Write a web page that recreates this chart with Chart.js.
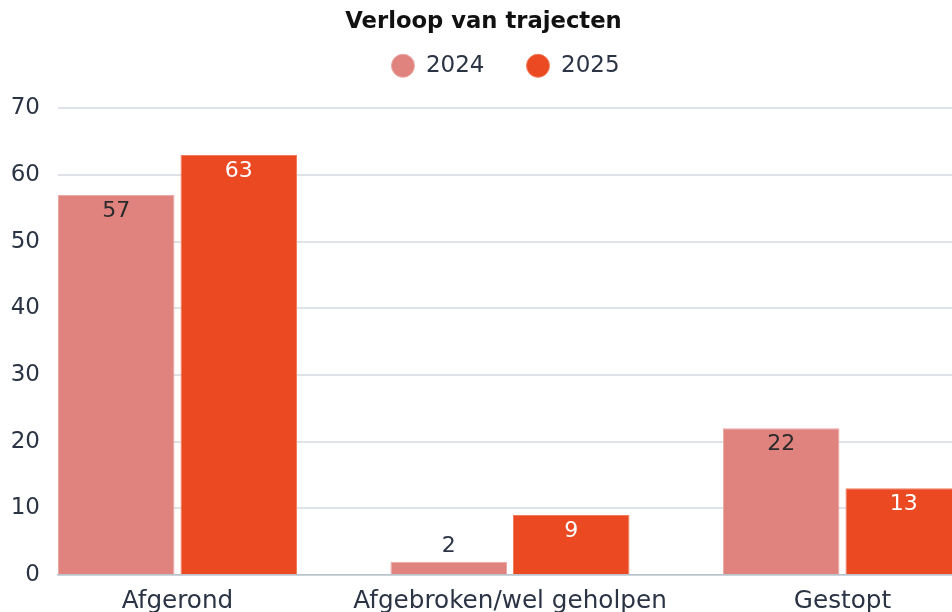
<!DOCTYPE html>
<html>
<head>
<meta charset="utf-8">
<script src="https://cdn.jsdelivr.net/npm/chart.js@4/dist/chart.umd.min.js"></script>
<style>
  html, body { margin: 0; padding: 0; background: #fff; overflow: hidden; }
  #wrap { width: 967px; height: 625px; position: relative; }
</style>
</head>
<body>
<div id="wrap"><canvas id="chart"></canvas></div>
<script>
// Chart data
const categories = ['Afgerond', 'Afgebroken/wel geholpen', 'Gestopt'];
const years = ['2024', '2025'];
const values2024 = [57, 2, 22];
const values2025 = [63, 9, 13];
const yTicks = [0, 10, 20, 30, 40, 50, 60, 70];

const colors = ['#E0827E', '#EA4922'];
const edgeColors = ['#EDA9A5', '#F27C5E'];
const labelColors = ['#2b2b2b', '#ffffff'];
const textColor = '#2b3445';
const fontFamily = '"DejaVu Sans", sans-serif';

// Legend tweaks: extra space below it, and a small shift to the right
const LEGEND_EXTRA = 21;
const LEGEND_SHIFT = 22;

// Simple inline value labels (no datalabels plugin available)
const valueLabels = {
    id: 'valueLabels',
    afterDatasetsDraw(chart) {
        const ctx = chart.ctx;
        ctx.save();
        ctx.font = '22px ' + fontFamily;
        ctx.textAlign = 'center';
        ctx.textBaseline = 'middle';
        chart.data.datasets.forEach((ds, di) => {
            chart.getDatasetMeta(di).data.forEach((bar, i) => {
                const v = ds.data[i].y;
                const h = bar.base - bar.y;
                if (h > 30) {
                    ctx.fillStyle = labelColors[di];
                    ctx.fillText(String(v), bar.x, bar.y + 16);
                } else {
                    ctx.fillStyle = textColor;
                    ctx.fillText(String(v), bar.x, bar.y - 15);
                }
            });
        });
        ctx.restore();
    }
};

const legendSpacing = {
    id: 'legendSpacing',
    beforeInit(chart) {
        const legend = chart.legend;
        const fit = legend.fit;
        const draw = legend.draw;
        legend.fit = function () {
            fit.call(this);
            this.height += LEGEND_EXTRA;
        };
        legend.draw = function (...args) {
            this.ctx.save();
            this.ctx.translate(LEGEND_SHIFT, 0);
            draw.apply(this, args);
            this.ctx.restore();
        };
    }
};

const toPoints = (vals) => vals.map((v, i) => ({ x: i, y: v }));

new Chart(document.getElementById('chart'), {
    type: 'bar',
    data: {
        datasets: [
            {
                label: years[0],
                data: toPoints(values2024),
                backgroundColor: colors[0],
                borderColor: edgeColors[0],
                borderWidth: 1,
                categoryPercentage: 0.737,
                barPercentage: 0.951
            },
            {
                label: years[1],
                data: toPoints(values2025),
                backgroundColor: colors[1],
                borderColor: edgeColors[1],
                borderWidth: 1,
                categoryPercentage: 0.737,
                barPercentage: 0.951
            }
        ]
    },
    options: {
        responsive: true,
        maintainAspectRatio: false,
        animation: false,
        layout: { padding: 0 },
        plugins: {
            title: {
                display: true,
                text: 'Verloop van trajecten',
                color: '#111111',
                font: { family: fontFamily, size: 22.7, weight: 'bold' },
                padding: { top: 8, bottom: -23 }
            },
            legend: {
                position: 'top',
                labels: {
                    usePointStyle: true,
                    pointStyle: 'circle',
                    boxHeight: 16.3,
                    pointStyleWidth: 23,
                    color: textColor,
                    padding: 42,
                    font: { family: fontFamily, size: 23 }
                }
            },
            tooltip: { enabled: false }
        },
        scales: {
            x: {
                type: 'linear',
                offset: false,
                min: -0.3594,
                max: 2.3745,
                afterBuildTicks: (scale) => {
                    scale.ticks = categories.map((_, i) => ({ value: i }));
                },
                afterFit: (scale) => { scale.height = 50; },
                grid: { display: false, drawTicks: false },
                border: { display: true, color: '#b9c3cc', width: 1.5 },
                ticks: {
                    color: textColor,
                    padding: 12,
                    maxRotation: 0,
                    autoSkip: false,
                    font: { family: fontFamily, size: 24.7 },
                    callback: (v) => categories[v] ?? ''
                }
            },
            y: {
                min: 0,
                max: 70,
                afterBuildTicks: (scale) => {
                    scale.ticks = yTicks.map((v) => ({ value: v }));
                },
                afterFit: (scale) => { scale.width = 58; },
                grid: { color: '#dfe3e7', lineWidth: 2, drawTicks: false },
                border: { display: false },
                ticks: {
                    color: textColor,
                    padding: 18,
                    font: { family: fontFamily, size: 23 }
                }
            }
        }
    },
    plugins: [valueLabels, legendSpacing]
});
</script>
</body>
</html>
